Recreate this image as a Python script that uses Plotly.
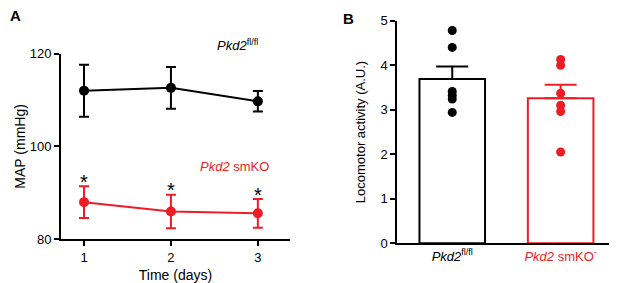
import plotly.graph_objects as go

# Panel A data
days = [1, 2, 3]
map_ctrl = [112.0, 112.6, 109.7]
map_ctrl_sem = [5.6, 4.5, 2.2]
map_ko = [88.0, 86.0, 85.6]
map_ko_sem = [3.4, 3.6, 3.1]
star_y = [93.4, 91.7, 90.7]

# Panel B data
groups = ["Pkd2<sup>fl/fl</sup>", "Pkd2 smKO<sup>-</sup>"]
group_ticks = ["<i>Pkd2</i><sup>fl/fl</sup>", "<span style='color:#ee1c25'><i>Pkd2</i> smKO<sup>-</sup></span>"]
loco_mean = [3.69, 3.26]
loco_sem = [0.28, 0.30]
loco_ctrl_pts = [4.78, 4.40, 3.41, 3.32, 3.24, 2.94]
loco_ko_pts = [4.13, 4.00, 3.37, 3.10, 2.96, 2.05]

RED = "#ee1c25"
FONT = "Arial, Liberation Sans, sans-serif"

# page body has an 8px margin; figure is sized to fit the window
OFF = 8
W, H = 617 - OFF, 283 - OFF


def px(x):
    return (x - OFF) / W


def py(y):
    return 1 - (y - OFF) / H


fig = go.Figure()

fig.add_trace(go.Scatter(
    x=days, y=map_ctrl, mode="lines+markers",
    line=dict(color="black", width=2),
    marker=dict(color="black", size=10),
    error_y=dict(type="data", array=map_ctrl_sem, color="black", thickness=2, width=5),
    xaxis="x", yaxis="y", showlegend=False))
fig.add_trace(go.Scatter(
    x=days, y=map_ko, mode="lines+markers",
    line=dict(color=RED, width=2),
    marker=dict(color=RED, size=10),
    error_y=dict(type="data", array=map_ko_sem, color=RED, thickness=2, width=5),
    xaxis="x", yaxis="y", showlegend=False))

# Panel B
for i, col in enumerate(["black", RED]):
    fig.add_trace(go.Bar(
        x=[groups[i]], y=[loco_mean[i]], width=0.605,
        marker=dict(color="white", line=dict(color=col, width=2)),
        error_y=dict(type="data", symmetric=False, array=[loco_sem[i]], arrayminus=[0],
                     color=col, thickness=2, width=16),
        xaxis="x2", yaxis="y2", showlegend=False))
fig.add_trace(go.Scatter(
    x=[groups[0]] * len(loco_ctrl_pts), y=loco_ctrl_pts, mode="markers",
    marker=dict(color="black", size=9), xaxis="x2", yaxis="y2", showlegend=False))
fig.add_trace(go.Scatter(
    x=[groups[1]] * len(loco_ko_pts), y=loco_ko_pts, mode="markers",
    marker=dict(color=RED, size=9), xaxis="x2", yaxis="y2", showlegend=False))

axis_common = dict(showline=True, linewidth=2, linecolor="black", showgrid=False,
                   zeroline=False, ticks="outside", ticklen=5, tickwidth=2,
                   tickcolor="black", automargin=False,
                   tickfont=dict(size=13, color="black", family=FONT))

fig.update_layout(
    width=W, height=H, margin=dict(l=0, r=0, t=0, b=0),
    plot_bgcolor="white", paper_bgcolor="white",
    font=dict(family=FONT, color="black"),
    barmode="overlay",
    xaxis=dict(axis_common, domain=[px(61), px(290)], range=[0.735, 3.37],
               tickvals=days, anchor="y",
               title=dict(text="Time (days)", font=dict(size=14), standoff=9)),
    yaxis=dict(axis_common, domain=[py(239.3), py(53.5)], range=[80, 120],
               tickvals=[80, 100, 120], anchor="x",
               title=dict(text="MAP (mmHg)", font=dict(size=14), standoff=1)),
    xaxis2=dict(axis_common, domain=[px(397.3), 1.0], range=[-0.507, 1.52],
                ticks="", tickvals=groups, ticktext=group_ticks, anchor="y2",
                type="category"),
    yaxis2=dict(axis_common, domain=[py(243.3), py(20.7)], range=[0, 5],
                tickvals=[0, 1, 2, 3, 4, 5], anchor="x2",
                title=dict(text="Locomotor activity (A.U.)", font=dict(size=13), standoff=12)),
)

for d, sy in zip(days, star_y):
    fig.add_annotation(xref="x", yref="y", x=d, y=sy, text="*", showarrow=False,
                       font=dict(size=20, color="black"), yanchor="middle", yshift=-5)

fig.add_annotation(xref="paper", yref="paper", x=0.0, y=py(15), text="<b>A</b>",
                   showarrow=False, font=dict(size=15), xanchor="left", yanchor="middle")
fig.add_annotation(xref="paper", yref="paper", x=px(341), y=1.0, text="<b>B</b>",
                   showarrow=False, font=dict(size=15), xanchor="left", yanchor="top")
fig.add_annotation(xref="paper", yref="paper", x=px(237), y=py(45),
                   text="<i>Pkd2</i><sup>fl/fl</sup>",
                   showarrow=False, font=dict(size=13, color="black"), yanchor="middle")
fig.add_annotation(xref="paper", yref="paper", x=px(234), y=py(166),
                   text="<i>Pkd2</i> smKO",
                   showarrow=False, font=dict(size=13, color=RED), yanchor="middle")

fig.write_html("out.html")
